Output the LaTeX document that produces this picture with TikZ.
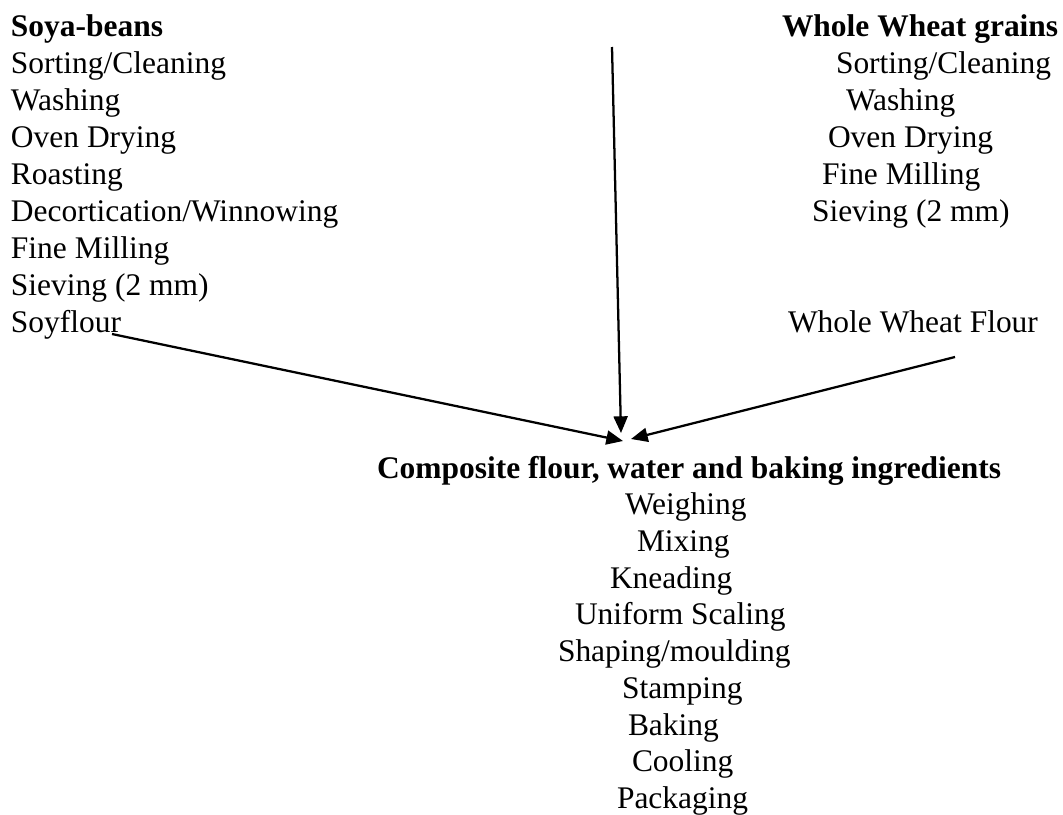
\documentclass[tikz,border=0pt]{standalone}
\usepackage{fontspec}
\setmainfont{Liberation Serif}
\usetikzlibrary{arrows.meta}
\tikzset{
  txt/.style={anchor=base west, inner sep=0pt, outer sep=0pt, font=\fontsize{23.6}{28}\selectfont},
  hd/.style={txt, font=\fontsize{23.6}{28}\selectfont\bfseries},
  arr/.style={line width=1.7pt, -{Triangle[length=12.5pt,width=10.5pt]}}
}
\begin{document}
\begin{tikzpicture}[x=0.75pt,y=-0.75pt]
\useasboundingbox (0,0) rectangle (1063,814);
% left column
\node[hd]  (sb)  at (11,36)  {Soya-beans};
\node[txt] (l1)  at (11,73)  {Sorting/Cleaning};
\node[txt] (l2)  at (11,110) {Washing};
\node[txt] (l3)  at (11,147) {Oven Drying};
\node[txt] (l4)  at (11,184) {Roasting};
\node[txt] (l5)  at (11,221) {Decortication/Winnowing};
\node[txt] (l6)  at (11,258) {Fine Milling};
\node[txt] (l7)  at (11,295) {Sieving (2 mm)};
\node[txt] (sf)  at (11,332) {Soyflour};
% right column
\node[hd]  (wg)  at (782,36)  {Whole Wheat grains};
\node[txt] (r1)  at (836,73)  {Sorting/Cleaning};
\node[txt] (r2)  at (846,110) {Washing};
\node[txt] (r3)  at (828,147) {Oven Drying};
\node[txt] (r4)  at (822,184) {Fine Milling};
\node[txt] (r5)  at (812,221) {Sieving (2 mm)};
\node[txt] (wf)  at (788,332) {Whole Wheat Flour};
% centre column
\node[hd]  (cf)  at (377,478) {Composite flour, water and baking ingredients};
\node[txt] (c1)  at (625,514) {Weighing};
\node[txt] (c2)  at (637,551) {Mixing};
\node[txt] (c3)  at (610,588) {Kneading};
\node[txt] (c4)  at (575,624) {Uniform Scaling};
\node[txt] (c5)  at (558,661) {Shaping/moulding};
\node[txt] (c6)  at (622,698) {Stamping};
\node[txt] (c7)  at (628,735) {Baking};
\node[txt] (c8)  at (632,771) {Cooling};
\node[txt] (c9)  at (617,808) {Packaging};
% connectors
\coordinate (top) at (612,47);
\coordinate (sfend) at (112,334);
\coordinate (wfend) at (955,357);
\coordinate (tipv) at (621,433);
\coordinate (tipl) at (623,441);
\coordinate (tipr) at (631,439);
\draw[arr] (top) -- (tipv);
\draw[arr] (sfend) -- (tipl);
\draw[arr] (wfend) -- (tipr);
\end{tikzpicture}
\end{document}
